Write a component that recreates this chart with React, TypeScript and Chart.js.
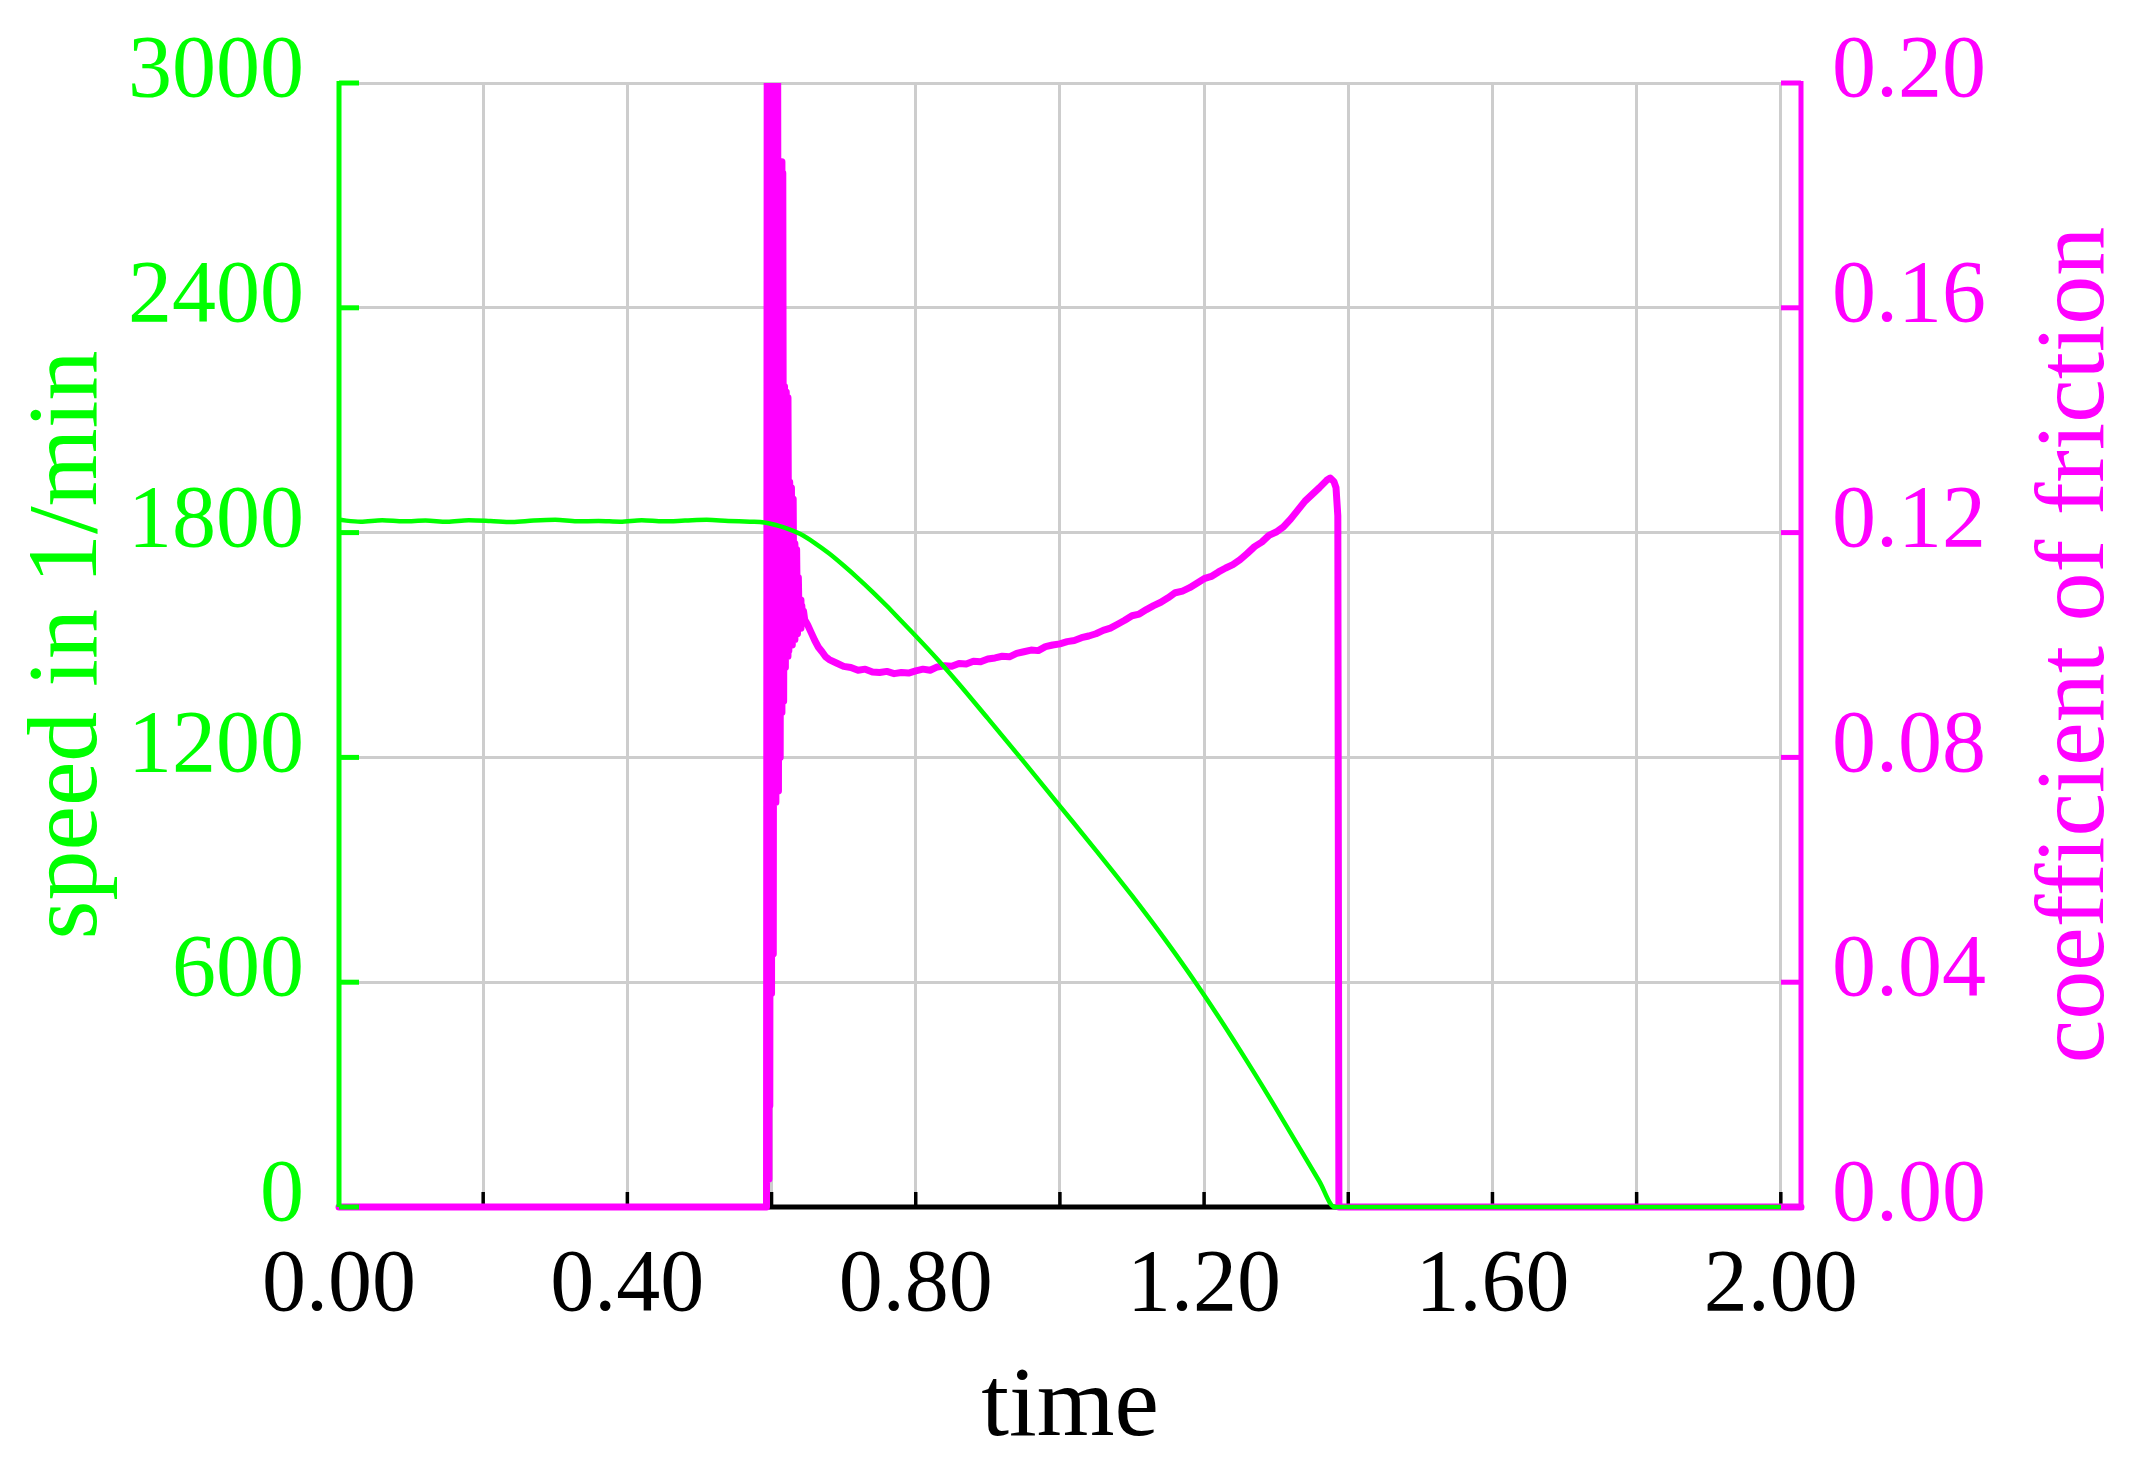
import React, { useEffect, useRef } from "react";
import { Chart, registerables } from "chart.js";

Chart.register(...registerables);

const GREEN = "#00ff00";
const MAGENTA = "#ff00ff";
const GRID = "#cdcdcd";

const xTickValues = [0, 0.4, 0.8, 1.2, 1.6, 2.0];
const speedTicks = [0, 600, 1200, 1800, 2400, 3000];
const frictionTicks = [0, 0.04, 0.08, 0.12, 0.16, 0.2];

const speedTime = [
  0, 0.03, 0.06, 0.09, 0.12, 0.15, 0.18, 0.21, 0.24, 0.27, 0.3, 0.33, 0.36, 0.39, 0.42, 0.45, 0.48, 0.51, 0.54, 0.57,
  0.59, 0.6, 0.62, 0.64, 0.66, 0.68, 0.7, 0.72, 0.74, 0.76, 0.78, 0.8, 0.83, 0.86, 0.9, 0.95, 1.0, 1.05, 1.1, 1.15,
  1.19, 1.22, 1.25, 1.29, 1.33, 1.36, 1.381, 1.4, 2.028,
];
const speedValues = [
  1834, 1829, 1833, 1830, 1832, 1829, 1833, 1831, 1828, 1832, 1834, 1830, 1831, 1829, 1833, 1830, 1832, 1834, 1831, 1829,
  1827, 1823, 1812, 1796, 1772, 1744, 1712, 1678, 1642, 1604, 1564, 1524, 1462, 1396, 1304, 1188, 1070, 952, 831, 703,
  594, 508, 418, 294, 165, 68, 0, 0, 0,
];

const frictionTime = [
  0, 0.593, 0.594, 0.5952, 0.5964, 0.5976, 0.5988, 0.6, 0.6012, 0.6024, 0.6036, 0.6048, 0.606, 0.6072, 0.6084, 0.6096,
  0.6108, 0.612, 0.6132, 0.6144, 0.6156, 0.6168, 0.618, 0.6192, 0.6204, 0.6216, 0.6228, 0.624, 0.6252, 0.6264, 0.6276,
  0.6288, 0.63, 0.6312, 0.6324, 0.6336, 0.6348, 0.636, 0.6372, 0.6384, 0.6396, 0.6408, 0.642, 0.6432, 0.6444, 0.646,
  0.65, 0.655, 0.66, 0.665, 0.67, 0.675, 0.68, 0.69, 0.7, 0.71, 0.72, 0.73, 0.74, 0.75, 0.76, 0.77, 0.78, 0.79, 0.8,
  0.81, 0.82, 0.83, 0.84, 0.85, 0.86, 0.87, 0.88, 0.89, 0.9, 0.91, 0.92, 0.93, 0.94, 0.95, 0.96, 0.97, 0.98, 0.99, 1.0,
  1.01, 1.02, 1.03, 1.04, 1.05, 1.06, 1.07, 1.08, 1.09, 1.1, 1.11, 1.12, 1.13, 1.14, 1.15, 1.16, 1.17, 1.18, 1.19, 1.2,
  1.21, 1.22, 1.23, 1.24, 1.25, 1.26, 1.27, 1.28, 1.29, 1.3, 1.31, 1.32, 1.33, 1.34, 1.35, 1.36, 1.37, 1.375, 1.38,
  1.383, 1.3855, 1.387, 2.028,
];
const frictionValues = [
  0, 0, 0.215, 0.005, 0.215, 0.018, 0.215, 0.038, 0.215, 0.045, 0.215, 0.072, 0.215, 0.075, 0.215, 0.074,
  0.186, 0.08, 0.186, 0.088, 0.184, 0.09, 0.146, 0.096, 0.145, 0.098, 0.144, 0.099, 0.129, 0.1, 0.128,
  0.1, 0.126, 0.101, 0.118, 0.102, 0.117, 0.102, 0.112, 0.103, 0.108, 0.103, 0.107, 0.104, 0.106, 0.1045,
  0.1036, 0.1022, 0.1008, 0.0996, 0.0988, 0.0979, 0.0974, 0.0968, 0.0962, 0.096, 0.0955, 0.0957, 0.0952, 0.0951, 0.0953,
  0.0949, 0.0951, 0.095, 0.0954, 0.0957, 0.0955, 0.0961, 0.0963, 0.0962, 0.0967, 0.0966, 0.0971, 0.097, 0.0975, 0.0977,
  0.098, 0.0979, 0.0985, 0.0988, 0.0991, 0.099, 0.0997, 0.1, 0.1002, 0.1006, 0.1008, 0.1013, 0.1016, 0.102, 0.1026,
  0.103, 0.1037, 0.1044, 0.1052, 0.1055, 0.1063, 0.107, 0.1076, 0.1084, 0.1093, 0.1096, 0.1102, 0.111, 0.1118, 0.1122,
  0.113, 0.1137, 0.1143, 0.1152, 0.1163, 0.1175, 0.1183, 0.1195, 0.1201, 0.121, 0.1224, 0.124, 0.1256, 0.1268, 0.128,
  0.1293, 0.1297, 0.1291, 0.128, 0.123, 0, 0,
];

const FONT = "'Liberation Serif', 'Times New Roman', serif";

const axesPlugin = {
  id: "customAxes",
  beforeDatasetsDraw(chart: any) {
    const { ctx, chartArea: a, scales } = chart;
    ctx.save();
    ctx.strokeStyle = "#000";
    ctx.lineWidth = 5;
    ctx.beginPath();
    ctx.moveTo(a.left, a.bottom);
    ctx.lineTo(a.right, a.bottom);
    ctx.stroke();
    ctx.lineWidth = 3.5;
    for (const t of scales.x.ticks) {
      const px = scales.x.getPixelForValue(t.value);
      ctx.beginPath();
      ctx.moveTo(px, a.bottom);
      ctx.lineTo(px, a.bottom - 15);
      ctx.stroke();
    }
    ctx.restore();
  },
  afterDatasetsDraw(chart: any) {
    const { ctx, chartArea: a, scales } = chart;
    ctx.save();
    ctx.lineWidth = 5;
    ctx.strokeStyle = GREEN;
    ctx.beginPath();
    ctx.moveTo(a.left, a.top - 2);
    ctx.lineTo(a.left, a.bottom);
    ctx.stroke();
    for (const t of scales.y.ticks) {
      const py = scales.y.getPixelForValue(t.value);
      ctx.beginPath();
      ctx.moveTo(a.left, py);
      ctx.lineTo(a.left + 20, py);
      ctx.stroke();
    }
    ctx.strokeStyle = MAGENTA;
    ctx.beginPath();
    ctx.moveTo(a.right, a.top - 2);
    ctx.lineTo(a.right, a.bottom + 3);
    ctx.stroke();
    for (const t of scales.y1.ticks) {
      const py = scales.y1.getPixelForValue(t.value);
      ctx.beginPath();
      ctx.moveTo(a.right, py);
      ctx.lineTo(a.right - 20, py);
      ctx.stroke();
    }
    ctx.translate(a.right + 276, (a.top + a.bottom) / 2);
    ctx.rotate(-Math.PI / 2);
    ctx.font = `98px ${FONT}`;
    ctx.fillStyle = MAGENTA;
    ctx.textAlign = "center";
    ctx.textBaseline = "middle";
    ctx.fillText("coefficient of friction", 0, 0);
    ctx.restore();
  },
};

const isMultiple = (v: number, step: number) => Math.abs(v / step - Math.round(v / step)) < 1e-6;

export default function App() {
  const ref = useRef<HTMLCanvasElement | null>(null);

  useEffect(() => {
    document.body.style.margin = "0";
    const canvas = ref.current;
    if (!canvas) return;
    const chart = new Chart(canvas, {
      type: "line",
      data: {
        datasets: [
          {
            label: "speed",
            data: speedTime.map((t, i) => ({ x: t, y: speedValues[i] })),
            yAxisID: "y",
            borderColor: GREEN,
            borderWidth: 4.5,
            pointRadius: 0,
            cubicInterpolationMode: "monotone",
            borderJoinStyle: "round",
            clip: { left: 5, right: 5, top: 0, bottom: 10 },
          },
          {
            label: "friction",
            data: frictionTime.map((t, i) => ({ x: t, y: frictionValues[i] })),
            yAxisID: "y1",
            borderColor: MAGENTA,
            borderWidth: 7,
            pointRadius: 0,
            tension: 0,
            borderJoinStyle: "round",
            borderCapStyle: "round",
            clip: { left: 5, right: 5, top: 0, bottom: 10 },
          },
        ],
      },
      options: {
        animation: false,
        responsive: false,
        devicePixelRatio: 1,
        layout: { padding: { top: 83, left: 0, right: 0, bottom: 0 } },
        plugins: { legend: { display: false }, tooltip: { enabled: false } },
        scales: {
          x: {
            type: "linear",
            min: 0,
            max: 2.028,
            bounds: "data",
            border: { display: false },
            grid: { color: GRID, lineWidth: 3, drawTicks: false },
            ticks: {
              stepSize: 0.2,
              includeBounds: false,
              autoSkip: false,
              maxRotation: 0,
              padding: 27,
              color: "#000",
              font: { family: FONT, size: 88 },
              callback: (v: any) =>
                xTickValues.some((x) => Math.abs(x - Number(v)) < 1e-6) && isMultiple(Number(v), 0.4)
                  ? Number(v).toFixed(2)
                  : "",
            },
            title: {
              display: true,
              text: "time",
              color: "#000",
              font: { family: FONT, size: 100, lineHeight: 1 },
              padding: { top: 0, bottom: 8 },
            },
            afterFit: (s: any) => {
              s.height = 260;
              s.paddingLeft = 0;
              s.paddingRight = 0;
            },
          },
          y: {
            type: "linear",
            position: "left",
            min: 0,
            max: 3000,
            border: { display: false },
            grid: { color: GRID, lineWidth: 3, drawTicks: false },
            ticks: {
              stepSize: 600,
              padding: 35,
              labelOffset: -10,
              color: GREEN,
              font: { family: FONT, size: 88 },
              callback: (v: any) => (speedTicks.includes(Number(v)) ? String(v) : ""),
            },
            title: {
              display: true,
              text: "speed in 1/min",
              color: GREEN,
              font: { family: FONT, size: 100, lineHeight: 1 },
              padding: { top: 20, bottom: 0 },
            },
            afterFit: (s: any) => {
              s.width = 339;
              s.paddingTop = 0;
              s.paddingBottom = 0;
            },
          },
          y1: {
            type: "linear",
            position: "right",
            min: 0,
            max: 0.2,
            border: { display: false },
            grid: { display: false, drawTicks: false },
            ticks: {
              stepSize: 0.04,
              padding: 31,
              labelOffset: -10,
              color: MAGENTA,
              font: { family: FONT, size: 88 },
              callback: (v: any) =>
                frictionTicks.some((f) => Math.abs(f - Number(v)) < 1e-9) ? Number(v).toFixed(2) : "",
            },
            afterFit: (s: any) => {
              s.width = 342;
              s.paddingTop = 0;
              s.paddingBottom = 0;
            },
          },
        },
      },
      plugins: [axesPlugin],
    } as any);
    return () => chart.destroy();
  }, []);

  return (
    <canvas
      ref={ref}
      width={2143}
      height={1467}
      style={{ display: "block", width: "2143px", height: "1467px" }}
    />
  );
}
